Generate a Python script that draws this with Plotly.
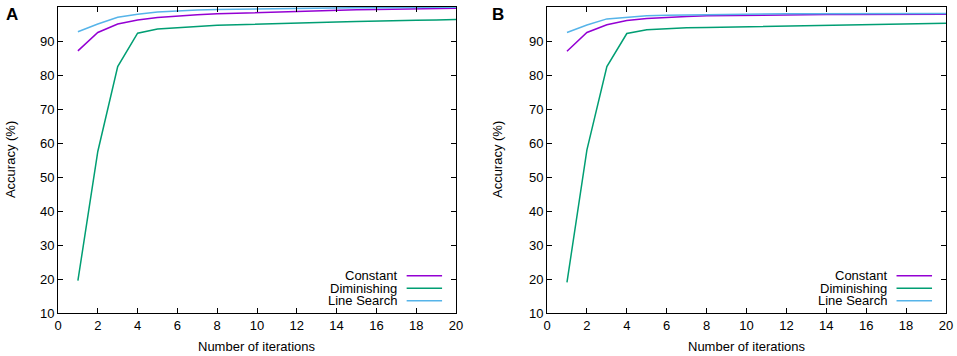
import plotly.graph_objects as go
from plotly.subplots import make_subplots

iterations = [1, 2, 3, 4, 5, 6, 7, 8, 9, 10, 11, 12, 13, 14, 15, 16, 17, 18, 19, 20]

# Panel A
a_constant = [87.1, 92.5, 95.0, 96.2, 96.9, 97.4, 97.7, 98.0, 98.2, 98.4, 98.6, 98.8, 98.9, 99.1, 99.2, 99.3, 99.4, 99.5, 99.5, 99.6]
a_diminishing = [19.5, 57.5, 82.5, 92.3, 93.5, 94.0, 94.3, 94.6, 94.8, 95.0, 95.1, 95.3, 95.4, 95.6, 95.7, 95.9, 96.0, 96.1, 96.2, 96.3]
a_linesearch = [92.7, 95.0, 97.0, 97.9, 98.5, 98.9, 99.1, 99.3, 99.4, 99.5, 99.6, 99.7, 99.7, 99.8, 99.8, 99.8, 99.9, 99.9, 99.9, 99.9]

# Panel B
b_constant = [87.0, 92.5, 94.8, 96.0, 96.6, 97.0, 97.2, 97.4, 97.5, 97.6, 97.6, 97.7, 97.7, 97.8, 97.8, 97.8, 97.9, 97.9, 97.9, 97.9]
b_diminishing = [19.0, 58.0, 82.5, 92.2, 93.3, 93.7, 93.9, 94.0, 94.1, 94.3, 94.4, 94.5, 94.6, 94.7, 94.8, 94.9, 95.0, 95.1, 95.1, 95.2]
b_linesearch = [92.5, 94.7, 96.5, 97.0, 97.4, 97.6, 97.7, 97.8, 97.9, 97.9, 98.0, 98.0, 98.0, 98.0, 98.1, 98.1, 98.1, 98.1, 98.1, 98.1]

series_names = ["Constant", "Diminishing", "Line Search"]
colors = ["#9400D3", "#009E73", "#56B4E9"]
panel_labels = ["A", "B"]
x_title = "Number of iterations"
y_title = "Accuracy (%)"
x_ticks = [0, 2, 4, 6, 8, 10, 12, 14, 16, 18, 20]
y_ticks = [10, 20, 30, 40, 50, 60, 70, 80, 90, 100]

FONT = "Liberation Sans, Arial, Helvetica, sans-serif"

fig = make_subplots(rows=1, cols=2, horizontal_spacing=0.1027)

panels = [(a_constant, a_diminishing, a_linesearch), (b_constant, b_diminishing, b_linesearch)]
for col, data in enumerate(panels, start=1):
    for name, vals, c in zip(series_names, data, colors):
        fig.add_trace(go.Scatter(x=iterations, y=vals, mode="lines", name=name,
                                 line=dict(color=c, width=1.5), showlegend=False),
                      row=1, col=col)

axis_common = dict(showgrid=False, zeroline=False, showline=True, linecolor="black", linewidth=1,
                   mirror="ticks", ticks="inside", ticklen=5, tickcolor="black", tickwidth=1,
                   automargin=False,
                   tickfont=dict(family=FONT, size=13, color="black"))

for i, dom in enumerate([[0, 0.4482], [0.5507, 1.0]], start=1):
    xa = "xaxis" if i == 1 else "xaxis2"
    ya = "yaxis" if i == 1 else "yaxis2"
    fig.layout[xa].update(domain=dom, range=[0, 20], tickvals=x_ticks, **axis_common)
    fig.layout[ya].update(range=[10, 100], tickvals=y_ticks, **axis_common)

# axis titles
for xr, ypx in [("x domain", -0.054), ("x2 domain", 0.4944)]:
    fig.add_annotation(x=0.5, y=-0.111, xref=xr, yref="paper", text=x_title, showarrow=False,
                       xanchor="center", yanchor="middle", font=dict(family=FONT, size=13, color="black"))
    fig.add_annotation(x=ypx, y=0.5, xref="paper", yref="paper", text=y_title, showarrow=False,
                       textangle=-90, xanchor="center", yanchor="middle",
                       font=dict(family=FONT, size=13, color="black"))

# legend inside each panel (text right-aligned, sample line on right)
leg_y = [0.122, 0.081, 0.040]
for p, xr in enumerate(["x domain", "x2 domain"]):
    yr = "y domain" if p == 0 else "y2 domain"
    for name, c, yy in zip(series_names, colors, leg_y):
        fig.add_annotation(x=0.857, y=yy, xref=xr, yref=yr, text=name, showarrow=False,
                           xanchor="right", yanchor="middle",
                           font=dict(family=FONT, size=13, color="black"))
        fig.add_shape(type="line", xref=xr, yref=yr, x0=0.876, x1=0.965, y0=yy, y1=yy,
                      line=dict(color=c, width=1.5))

# panel labels
for lbl, px in zip(panel_labels, [-0.0608, 0.4865]):
    fig.add_annotation(x=px, y=1.013, xref="paper", yref="paper", text="<b>" + lbl + "</b>",
                       showarrow=False, xanchor="left", yanchor="top",
                       font=dict(family=FONT, size=17, color="black"))

fig.update_layout(width=957, height=356, margin=dict(l=58, r=11, t=7, b=43),
                  plot_bgcolor="white", paper_bgcolor="white", showlegend=False)

fig.write_html("out.html", config={"displayModeBar": False},
               post_script="document.body.style.margin='0';document.body.style.overflow='hidden';")
